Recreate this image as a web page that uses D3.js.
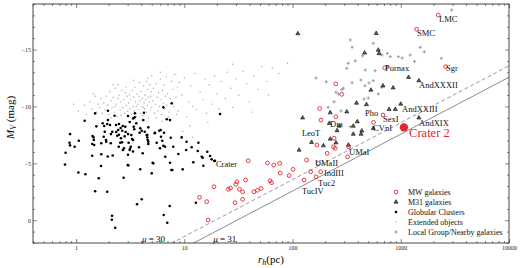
<!DOCTYPE html>
<html>
<head>
<meta charset="utf-8">
<script src="https://d3js.org/d3.v7.min.js"></script>
<style>
	body { margin: 0; background: #fff; }
	#chart { width: 520px; height: 268px; }
	text { font-family: "Liberation Serif", "DejaVu Serif", serif; }
</style>
</head>
<body>
<div id="chart"></div>
<script>
// Values: [half-light radius r_h (pc), absolute magnitude M_V]
const globularClusters = [
	[0.80,-5.93],[0.79,-4.89],[0.88,-6.58],[0.88,-7.57],[0.97,-6.46],[1.06,-6.99],[1.05,-4.19],[1.22,-4.04],
	[1.20,-8.74],[1.42,-7.40],[1.46,-7.05],[1.41,-6.70],[1.41,-5.67],[1.50,-9.39],[1.54,-8.25],[1.62,-3.69],
	[1.70,-4.76],[1.71,-5.80],[1.71,-6.76],[1.50,-2.55],[1.82,-8.28],[1.84,-7.78],[1.89,-7.05],[1.96,-5.60],
	[1.94,-2.50],[1.97,-9.62],[2.06,-8.37],[2.10,-7.57],[2.18,-5.69],[2.27,-9.18],[2.35,-7.75],[2.40,-7.43],
	[2.45,-7.93],[2.48,-6.46],[2.15,-0.39],[2.14,-0.04],[2.30,0.66],[2.75,-3.73],[2.60,-7.20],[2.66,-6.85],
	[2.70,-8.28],[2.77,-6.32],[2.87,-7.75],[3.00,-4.85],[3.13,-8.63],[3.15,-6.28],[3.20,-6.46],[3.29,-7.14],
	[3.36,-6.04],[3.41,-8.22],[3.48,-9.04],[3.45,-7.99],[3.66,-1.40],[4.04,-1.84],[3.92,-4.48],[4.18,-8.80],
	[4.13,-5.88],[4.31,-7.78],[4.55,-7.49],[4.59,-7.05],[4.65,-6.70],[5.0,-4.12],[5.1,-5.05],[5.33,-7.64],
	[5.87,-7.86],[6.09,-7.34],[6.26,-6.99],[6.40,-6.55],[6.67,-5.58],[6.45,-0.46],[6.96,0.22],[7.33,-1.25],
	[7.38,-5.05],[7.59,-4.41],[7.75,-4.41],[7.49,-7.25],[7.38,-8.80],[6.88,-8.87],[6.40,-9.92],[8.81,-5.82],
	[7.65,-10.27],[4.24,-9.45],[4.04,-7.86],[5.36,-7.69],[6.49,-7.69],[9.46,-7.28],[4.49,-7.49],[10.5,-6.90],
	[7.91,-6.46],[10.4,-6.17],[13.5,-6.81],[13.3,-6.08],[12.1,-5.09],[15.0,-4.79],[16.3,-6.02],[17.3,-5.64],
	[17.9,-5.35],[14.8,-5.49],[21.4,-9.33],[12.8,-1.54],[4.65,-6.90],[5.56,-6.81],[5.96,-6.32],[6.63,-6.46],
	[11.7,-6.41],[14.5,-5.58],[19.2,-5.23],[9.66,-4.47],[5.17,-5.00],[18.9,-5.20],[1.76,-8.52],[2.34,-8.37],
	[2.49,-8.45],[2.58,-8.10],[2.85,-8.22],[3.60,-8.52],[3.92,-8.08],[2.16,-7.78],[2.49,-7.51],[2.67,-7.86],
	[2.81,-7.37],[3.02,-7.57],[3.24,-7.49],[3.87,-7.69],[1.45,-7.28],[1.47,-6.61],[1.80,-7.34],[1.90,-6.90],
	[2.09,-6.76],[2.56,-6.81],[3.06,-6.81],[3.36,-7.05],[3.81,-6.41],[0.87,-6.81],[3.02,-9.16],[3.50,-9.39],
	[3.38,-8.95],[1.97,-8.80],[1.94,-8.45],[2.71,-6.17],[3.02,-5.76],[3.13,-6.17],[3.04,-4.82],[6.05,-7.93],
	[4.65,-8.16],[4.55,-7.28]
];

const extendedObjects = [
	[0.95,-10.2],[1.05,-9.6],[1.2,-10.1],[1.25,-9.3],[1.35,-10.4],[1.4,-9.8],[1.45,-11.1],[1.5,-10.9],
	[1.55,-9.5],[1.6,-10.2],[1.65,-9.9],[1.7,-10.7],[1.75,-9.4],[1.8,-10.3],[1.85,-9.7],[1.9,-10.9],
	[1.95,-10.1],[2.0,-9.3],[2.05,-11.3],[2.1,-10.5],[2.1,-9.0],[2.15,-9.9],[2.2,-10.8],[2.2,-11.9],
	[2.25,-9.5],[2.3,-11.6],[2.3,-10.0],[2.35,-10.2],[2.4,-9.1],[2.45,-10.7],[2.45,-11.9],[2.5,-11.0],
	[2.55,-9.7],[2.6,-10.4],[2.6,-9.2],[2.65,-11.4],[2.7,-9.9],[2.75,-10.6],[2.8,-9.4],[2.85,-11.2],
	[2.9,-10.1],[2.9,-11.7],[2.95,-10.9],[3.0,-9.6],[3.05,-10.3],[3.1,-11.0],[3.15,-9.8],[3.2,-10.6],
	[3.25,-9.3],[3.3,-11.4],[3.3,-8.9],[3.35,-10.0],[3.4,-10.8],[3.4,-12.3],[3.45,-9.6],[3.5,-11.7],
	[3.55,-10.4],[3.6,-9.1],[3.6,-10.0],[3.65,-11.1],[3.7,-10.2],[3.75,-9.7],[3.8,-10.9],[3.85,-12.1],
	[3.9,-10.5],[3.95,-9.4],[4.0,-11.3],[4.0,-8.8],[4.05,-10.0],[4.1,-10.7],[4.15,-9.2],[4.2,-11.8],
	[4.2,-9.9],[4.25,-10.3],[4.3,-9.8],[4.35,-11.0],[4.4,-10.6],[4.45,-9.5],[4.5,-12.2],[4.55,-10.1],
	[4.6,-11.5],[4.6,-12.5],[4.65,-9.0],[4.7,-10.8],[4.75,-10.4],[4.8,-11.9],[4.85,-9.7],[4.9,-10.9],
	[4.95,-11.3],[5.0,-9.9],[5.0,-12.7],[5.1,-10.5],[5.2,-11.6],[5.3,-9.4],[5.4,-10.2],[5.5,-12.0],
	[5.5,-9.0],[5.6,-10.8],[5.7,-9.6],[5.8,-11.2],[5.9,-10.0],[6.0,-12.4],[6.0,-13.0],[6.1,-10.6],
	[6.2,-9.3],[6.3,-11.4],[6.3,-8.7],[6.4,-10.3],[6.5,-11.9],[6.6,-9.8],[6.7,-10.9],[6.8,-12.6],
	[6.9,-10.1],[7.0,-11.1],[7.1,-9.1],[7.2,-9.5],[7.4,-10.7],[7.6,-12.2],[7.8,-11.5],[8.0,-10.0],
	[8.2,-12.8],[8.4,-10.8],[8.5,-9.3],[8.6,-11.7],[8.8,-9.6],[9.0,-12.1],[9.5,-11.0],[9.7,-7.8],
	[10,-12.5],[10.5,-9.1],[11,-10.4],[11.3,-8.3],[11.5,-11.8],[12,-10.0],[12,-7.3],[12.5,-12.9],
	[13,-9.7],[14,-11.3],[15,-10.6],[15.5,-12.4],[16,-9.4],[16.5,-8.6],[17,-11.9],[18,-10.2],
	[19,-12.7],[20,-11.1],[21,-9.8],[22,-12.2],[24,-10.7],[25,-13.0],[27,-11.6],[28,-9.9],
	[28,-13.7],[30,-12.4],[32,-11.0],[35,-13.1],[38,-12.0],[40,-10.4],[42,-9.5],[44,-12.7],
	[48,-11.5],[52,-13.5],[58,-12.2],[60,-11.0],[65,-13.4],[75,-12.9],[90,-13.8]
];

const localGroupGalaxies = [
	[165,-12.5],[205,-12.17],[252,-11.24],[265,-11.09],[285,-11.47],[242,-10.41],[280,-9.6],[213,-9.92],
	[317,-13.35],[342,-15.84],[355,-15.2],[380,-14.0],[444,-14.45],[355,-12.08],[428,-12.32],[467,-11.82],
	[509,-12.06],[557,-12.26],[580,-13.14],[557,-15.55],[458,-10.65],[501,-10.74],[620,-11.09],[669,-14.52],
	[750,-14.67],[800,-14.37],[950,-14.37],[1030,-14.25],[1340,-13.96],[1512,-15.19],[1650,-14.8],[2370,-14.23],
	[2950,-18.47],[669,-11.68],[750,-13.49],[342,-8.22],[295,-11.6],[1222,-14.52],[470,-13.2],[327,-13.79]
];

const m31Galaxies = [
	[112,-16.4],[593,-16.42],[620,-14.96],[630,-14.65],[463,-14.7],[530,-11.44],[390,-10.3],[482,-10.17],
	[317,-9.53],[1180,-12.56],[850,-11.64],[1470,-12.26],[685,-11.82],[780,-9.75],[890,-9.75],[1000,-10.21],
	[1470,-9.0],[397,-8.66],[364,-8.28],[437,-7.86],[364,-7.57],[557,-8.08],[328,-6.61],[124,-9.0],
	[150,-6.85],[193,-6.55],[223,-7.14],[252,-6.81],[115,-6.17],[219,-8.52],[258,-7.88],[270,-8.28],
	[223,-9.45],[430,-7.57]
];

const mwGalaxies = [
	[39,-5.23],[18.8,-2.94],[13.8,-2.01],[16.1,-1.63],[16.6,-0.02],[25.5,-2.72],[26.7,-2.83],[29.9,-3.15],
	[30.6,-3.38],[36.8,-3.53],[32.3,-2.72],[34.6,-2.5],[29.4,-1.54],[34.6,-1.84],[44,-2.5],[47.4,-2.63],
	[51.3,-2.8],[58.6,-5.03],[67,-4.85],[76,-5.0],[62,-3.47],[64,-3.3],[77,-4.15],[93,-3.93],
	[101,-4.47],[135,-5.29],[128,-3.53],[147,-4.26],[165,-3.82],[182,-4.26],[173,-5.0],[168,-6.61],
	[178,-9.82],[183,-8.8],[209,-5.88],[239,-6.46],[242,-7.2],[251,-9.1],[251,-11.99],[285,-11.06],
	[330,-6.46],[248,-6.32],[322,-5.58],[2220,-18.03],[1400,-16.78],[710,-13.4],[2600,-13.49],[685,-9.24],
	[560,-8.6]
];

const crater2 = [1070, -8.16];

// name labels, anchored (left / baseline) in data coordinates
const labelNames = ["LMC","SMC","Pornax","Sgr","AndXXXII","AndXXIII","Pho","SexI","CVnI","AndXIX","Dra","LeoT","UMaI","UMaII","IndIII","Tuc2","TucIV","Crater"];
const labelRh = [2260,1415,716,2620,1475,1028,468,686,555,1475,222,122,333,161,195,172,122,19.6];
const labelMv = [-17.42,-16.19,-13.09,-13.09,-11.62,-9.51,-9.2,-8.63,-7.88,-8.28,-8.15,-7.36,-5.69,-4.75,-3.9,-3.05,-2.3,-4.67];
const crater2Label = { name: "Crater 2", rh: 1194, mv: -7.27 };

// constant surface brightness lines (mag / arcsec^2)
const muLevels = [30, 31];
const muLabelRh = [4.06, 18.5];

const xTicks = [1, 10, 100, 1000, 10000];
const yTicks = [0, -5, -10, -15];
const legendLabels = ["MW galaxies", "M31 galaxies", "Globular Clusters", "Extended objects", "Local Group/Nearby galaxies"];

function drawChart(options){
	const 	container = d3.select(options.container),
			width = 520,
			height = 268,
			margin = options.margin,
			innerWidth = width - margin.left - margin.right,
			innerHeight = height - margin.top - margin.bottom,
			red = "#e3262b";

	const x = d3.scaleLog()
		.domain([0.4, 10000])
		.range([0, innerWidth]);

	const y = d3.scaleLinear()
		.domain([2, -19])
		.range([innerHeight, 0]);

	const svg = container.append('svg')
		.attr('width', width)
		.attr('height', height);

	svg.append('defs').append('clipPath')
		.attr('id', 'plot-clip')
		.append('rect')
		.attr('width', innerWidth)
		.attr('height', innerHeight);

	const chartInner = svg.append('g')
		.attr('transform', `translate(${margin.left},${margin.top})`);

	// surface brightness lines: M_V = mu - 21.572 - 2.5 log10(2 pi r_h^2)
	const muOffset = 21.572 + 2.5 * Math.log10(2 * Math.PI);
	const muLine = d3.line()
		.x(d => x(d[0]))
		.y(d => y(d[1]));

	const lines = chartInner.append('g').attr('clip-path', 'url(#plot-clip)');
	muLevels.forEach((mu, i) => {
		const pts = x.domain().map(r => [r, mu - muOffset - 5 * Math.log10(r)]);
		lines.append('path')
			.attr('d', muLine(pts))
			.attr('fill', 'none')
			.attr('stroke', i === 0 ? '#9a9a9a' : '#8c8c8c')
			.attr('stroke-width', 1)
			.attr('stroke-dasharray', i === 0 ? '4,2.5' : null);

		const t = chartInner.append('text')
			.attr('x', x(muLabelRh[i]))
			.attr('y', innerHeight - 1.5)
			.style('font-size', '9px');
		t.append('tspan').style('font-style', 'italic').text('μ');
		t.append('tspan').text(` = ${mu}`);
	});

	// markers
	const marks = chartInner.append('g').attr('clip-path', 'url(#plot-clip)');

	marks.selectAll('.ext')
		.data(extendedObjects)
		.enter().append('circle')
		.attr('cx', d => x(d[0]))
		.attr('cy', d => y(d[1]))
		.attr('r', 0.7)
		.attr('fill', '#a8a8a8');

	marks.selectAll('.gc')
		.data(globularClusters)
		.enter().append('circle')
		.attr('cx', d => x(d[0]))
		.attr('cy', d => y(d[1]))
		.attr('r', 1.3)
		.attr('fill', '#000');

	const plusPath = 'M-1.6,0H1.6M0,-1.6V1.6';
	marks.selectAll('.lg')
		.data(localGroupGalaxies)
		.enter().append('path')
		.attr('transform', d => `translate(${x(d[0])},${y(d[1])})`)
		.attr('d', plusPath)
		.attr('stroke', '#888')
		.attr('stroke-width', 0.8);

	const triangle = d3.symbol().type(d3.symbolTriangle).size(7);
	marks.selectAll('.m31')
		.data(m31Galaxies)
		.enter().append('path')
		.attr('transform', d => `translate(${x(d[0])},${y(d[1])})`)
		.attr('d', triangle)
		.attr('fill', '#666')
		.attr('stroke', '#000')
		.attr('stroke-width', 0.6);

	marks.selectAll('.mw')
		.data(mwGalaxies)
		.enter().append('circle')
		.attr('cx', d => x(d[0]))
		.attr('cy', d => y(d[1]))
		.attr('r', 1.9)
		.attr('fill', 'none')
		.attr('stroke', red)
		.attr('stroke-width', 0.9);

	marks.append('circle')
		.attr('cx', x(crater2[0]))
		.attr('cy', y(crater2[1]))
		.attr('r', 4.2)
		.attr('fill', red);

	// object names
	chartInner.selectAll('.name')
		.data(labelNames)
		.enter().append('text')
		.attr('x', (d, i) => x(labelRh[i]))
		.attr('y', (d, i) => y(labelMv[i]))
		.style('font-size', '8.5px')
		.attr('fill', '#111')
		.text(d => d);

	chartInner.append('text')
		.attr('x', x(crater2Label.rh))
		.attr('y', y(crater2Label.mv))
		.style('font-size', '12.5px')
		.attr('fill', red)
		.text(crater2Label.name);

	// axes, ticks pointing inwards on all four sides
	const minorX = x.ticks().filter(v => xTicks.indexOf(v) < 0),
		  minorY = d3.range(-19, 3).filter(v => yTicks.indexOf(v) < 0);

	const styleAxis = g => {
		g.select('.domain').remove();
		g.selectAll('line').attr('stroke', '#333').attr('stroke-width', 0.6);
		g.selectAll('text').style('font-size', '6px').style('font-family', '"Liberation Serif", serif').attr('fill', '#222');
	};

	chartInner.append('g')
		.attr('transform', `translate(0,${innerHeight})`)
		.call(d3.axisBottom(x).tickValues(xTicks).tickSize(-4).tickPadding(3).tickFormat(d3.format('d')))
		.call(styleAxis);
	chartInner.append('g')
		.attr('transform', `translate(0,${innerHeight})`)
		.call(d3.axisBottom(x).tickValues(minorX).tickSize(-2).tickFormat(''))
		.call(styleAxis);
	chartInner.append('g')
		.call(d3.axisTop(x).tickValues(xTicks).tickSize(-4).tickFormat(''))
		.call(styleAxis);
	chartInner.append('g')
		.call(d3.axisTop(x).tickValues(minorX).tickSize(-2).tickFormat(''))
		.call(styleAxis);

	chartInner.append('g')
		.call(d3.axisLeft(y).tickValues(yTicks).tickSize(-4).tickPadding(2).tickFormat(d3.format('d')))
		.call(styleAxis);
	chartInner.append('g')
		.call(d3.axisLeft(y).tickValues(minorY).tickSize(-2).tickFormat(''))
		.call(styleAxis);
	chartInner.append('g')
		.attr('transform', `translate(${innerWidth},0)`)
		.call(d3.axisRight(y).tickValues(yTicks).tickSize(-4).tickFormat(''))
		.call(styleAxis);
	chartInner.append('g')
		.attr('transform', `translate(${innerWidth},0)`)
		.call(d3.axisRight(y).tickValues(minorY).tickSize(-2).tickFormat(''))
		.call(styleAxis);

	chartInner.append('rect')
		.attr('width', innerWidth)
		.attr('height', innerHeight)
		.attr('fill', 'none')
		.attr('stroke', '#333')
		.attr('stroke-width', 0.9);

	// axis titles
	const xTitle = svg.append('text')
		.attr('x', margin.left + innerWidth / 2)
		.attr('y', height - 5)
		.attr('text-anchor', 'middle')
		.style('font-size', '11px');
	xTitle.append('tspan').style('font-style', 'italic').text('r');
	xTitle.append('tspan').style('font-style', 'italic').style('font-size', '8px').attr('dy', 2).text('h');
	xTitle.append('tspan').attr('dy', -2).text('(pc)');

	const yTitle = svg.append('text')
		.attr('transform', `translate(14,${margin.top + innerHeight / 2 - 6}) rotate(-90)`)
		.attr('text-anchor', 'middle')
		.style('font-size', '11px');
	yTitle.append('tspan').style('font-style', 'italic').text('M');
	yTitle.append('tspan').style('font-style', 'italic').style('font-size', '8px').attr('dy', 2).text('V');
	yTitle.append('tspan').attr('dy', -2).text(' (mag)');

	// legend
	const legend = svg.append('g')
		.attr('transform', `translate(${margin.left + innerWidth - 113},${margin.top + 188})`);

	legendLabels.forEach((label, i) => {
		const row = legend.append('g').attr('transform', `translate(0,${i * 10})`);
		if (i === 0) row.append('circle').attr('r', 1.9).attr('fill', 'none').attr('stroke', red).attr('stroke-width', 0.9);
		if (i === 1) row.append('path').attr('d', triangle).attr('fill', '#666').attr('stroke', '#000').attr('stroke-width', 0.6);
		if (i === 2) row.append('circle').attr('r', 1.3).attr('fill', '#000');
		if (i === 3) row.append('circle').attr('r', 0.7).attr('fill', '#a8a8a8');
		if (i === 4) row.append('path').attr('d', plusPath).attr('stroke', '#888').attr('stroke-width', 0.8);
		row.append('text')
			.attr('x', 12)
			.attr('dy', '0.33em')
			.style('font-size', '8px')
			.attr('fill', '#111')
			.text(label);
	});
}

drawChart({
	container: '#chart',
	margin: { top: 4, right: 11, bottom: 25, left: 33 }
});
</script>
</body>
</html>
